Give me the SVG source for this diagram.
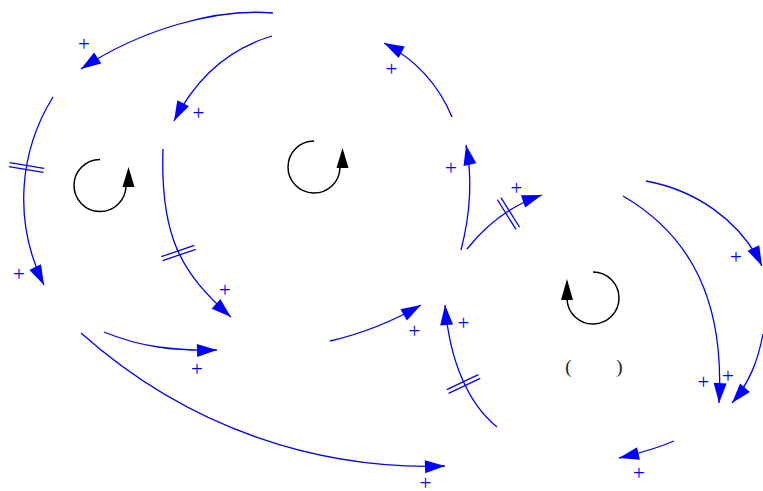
<svg xmlns="http://www.w3.org/2000/svg" width="763" height="491" viewBox="0 0 763 491">
<defs>
<marker id="ah" markerUnits="userSpaceOnUse" markerWidth="21" markerHeight="14" refX="20" refY="6.5" orient="auto" overflow="visible">
<path d="M0,0 L20,6.5 L0,13 z" fill="#0000ff"/>
</marker>
<g id="hash"><line x1="-17.5" y1="-2.1" x2="17.5" y2="-2.1"/><line x1="-17.5" y1="2.1" x2="17.5" y2="2.1"/></g>
</defs>
<style>
.c{fill:none;stroke:#0000ff;stroke-width:1.3;marker-end:url(#ah)}
.h{stroke:#0000ff;stroke-width:1.3}
.p{font-family:"Liberation Serif",serif;font-size:21px;fill:#0000ff;text-anchor:middle}
.loop{fill:none;stroke:#000;stroke-width:1.5}
.lh{fill:#000}
.par{font-family:"Liberation Serif",serif;font-size:19px;fill:#222;text-anchor:middle}
</style>
<rect width="763" height="491" fill="#fff"/>
<g id="connectors">
<path class="c" d="M273,13 C215,8 140,30 81,69"/>
<path class="c" d="M272,36 C225,50 195,80 174,121"/>
<path class="c" d="M53,97 C20,150 12,220 44,285"/>
<path class="c" d="M163,149 C160,235 180,272 231,317"/>
<path class="c" d="M104,332 C140,347 175,351 217,350"/>
<path class="c" d="M81,333 C190,430 320,470 445,466"/>
<path class="c" d="M330,341 C365,333 395,320 421,305"/>
<path class="c" d="M452,117 C440,88 420,62 384,43"/>
<path class="c" d="M461,250 C470,215 473,180 466,145"/>
<path class="c" d="M467,249 C487,224 512,205 542,195"/>
<path class="c" d="M497,427 C470,405 450,365 445,305"/>
<path class="c" d="M646,181 C695,190 740,220 762,266"/>
<path class="c" d="M623,196 C690,235 725,300 719,403"/>
<path class="c" d="M763,334 C758,360 750,382 732,403"/>
<path class="c" d="M674,441 C660,447 645,452 619,458"/>
<use class="h" href="#hash" transform="translate(26.5,167.5) rotate(9.5)"/>
<use class="h" href="#hash" transform="translate(178.5,253) rotate(-19)"/>
<use class="h" href="#hash" transform="translate(508.5,213.5) rotate(58)"/>
<use class="h" href="#hash" transform="translate(463.5,384) rotate(-25.4)"/>
<text class="p" x="84" y="51">+</text>
<text class="p" x="198.5" y="119.5">+</text>
<text class="p" x="19" y="281">+</text>
<text class="p" x="225" y="297">+</text>
<text class="p" x="197" y="375.5">+</text>
<text class="p" x="425.5" y="490">+</text>
<text class="p" x="414.5" y="338">+</text>
<text class="p" x="391.5" y="76">+</text>
<text class="p" x="451" y="175">+</text>
<text class="p" x="516.5" y="194.5">+</text>
<text class="p" x="463.5" y="329.5">+</text>
<text class="p" x="736" y="263.5">+</text>
<text class="p" x="703.5" y="388.5">+</text>
<text class="p" x="728" y="382.5">+</text>
<text class="p" x="639" y="479.5">+</text>
</g>
<g id="loop1">
<path class="loop" d="M100,159.5 A26,26 0 1 0 126,186"/>
<polygon class="lh" points="128.5,167 122.5,187 134.5,187"/>
</g>
<g id="loop2">
<path class="loop" d="M314,141 A26,26 0 1 0 340,168"/>
<polygon class="lh" points="342.5,148 336.5,168 348.5,168"/>
</g>
<g id="loop3">
<path class="loop" d="M593,272 A26,26 0 1 1 567,299"/>
<polygon class="lh" points="567,279 561,300 573,300"/>
<text class="par" x="568.5" y="373">(</text>
<text class="par" x="619.5" y="373">)</text>
</g>
</svg>
